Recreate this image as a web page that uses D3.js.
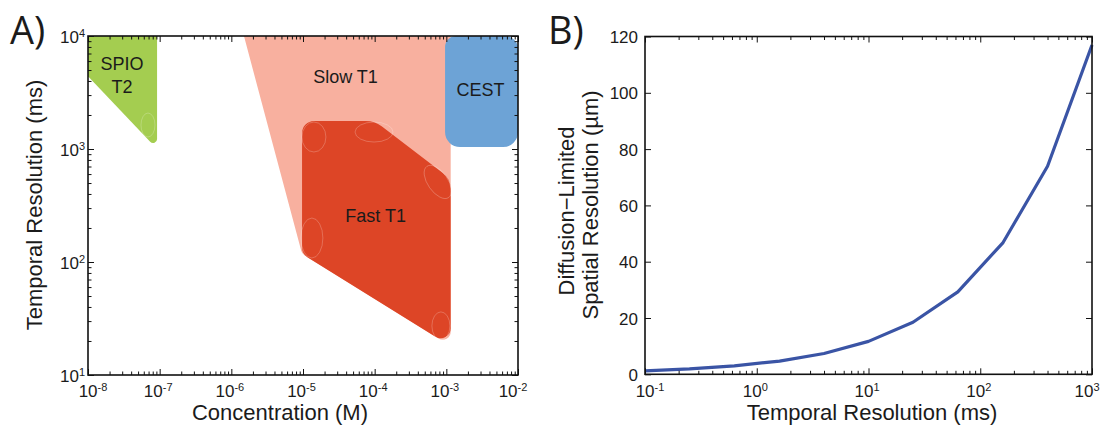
<!DOCTYPE html>
<html><head><meta charset="utf-8">
<script src="https://cdn.jsdelivr.net/npm/d3@7"></script>
<style>
body{margin:0;background:#fff}
svg{display:block}
text{font-family:"Liberation Sans",Arial,Helvetica,sans-serif;fill:#1b1b1b}
</style>
</head><body>
<svg id="chart" width="1106" height="428"></svg>
<script>
// ---------------- Panel A data ----------------
const concTicks = [1e-8, 1e-7, 1e-6, 1e-5, 1e-4, 1e-3, 1e-2];
const concTickExp = ["-8", "-7", "-6", "-5", "-4", "-3", "-2"];
const timeTicksA = [10, 100, 1000, 10000];
const timeTickExpA = ["1", "2", "3", "4"];

const slowT1Conc = [1.5e-6, 1.15e-3, 1.15e-3, 9.7e-6];
const slowT1Time = [10000, 10000, 18, 118];
const fastT1Conc = [9.7e-6, 1.0e-4, 1.15e-3, 1.15e-3, 9.7e-6];
const fastT1Time = [1770, 1770, 543, 18, 118];
const spioConc = [1e-8, 9.2e-8, 9.2e-8, 1e-8];
const spioTime = [10000, 10000, 1000, 4400];
const cestConc = [9.6e-4, 1e-2, 1e-2, 9.6e-4];
const cestTime = [10000, 10000, 1040, 1040];

const regionLabels = ["SPIO|T2", "Slow T1", "Fast T1", "CEST"];
const regionLabelConc = [2.98e-8, 3.92e-5, 1.03e-4, 3.01e-3];
const regionLabelTime = [4500, 4340, 255, 3330];

// faint corner ellipses (artefacts of the original drawing)
const ellipseConc = [6.87e-8, 1.42e-5, 9.8e-5, 7.6e-4, 1.33e-5, 8.4e-4];
const ellipseTime = [1630, 1277, 1413, 511, 163, 27.2];

// ---------------- Panel B data ----------------
const temporalRes = [0.1, 0.25, 0.63, 1.6, 4, 10, 25, 63, 160, 400, 1000];
const spatialRes = [1.2, 1.9, 3.0, 4.7, 7.4, 11.7, 18.5, 29.3, 46.8, 73.9, 117];
const tTicksB = [0.1, 1, 10, 100, 1000];
const tTickExpB = ["-1", "0", "1", "2", "3"];
const sTicksB = [0, 20, 40, 60, 80, 100, 120];

// ---------------- drawing ----------------
const svg = d3.select("#chart");
const A = {l: 88, r: 518, t: 36, b: 375};
const B = {l: 645, r: 1092, t: 36.5, b: 374.3};

const xA = d3.scaleLog().domain([1e-8, 1e-2]).range([A.l, A.r]);
const yA = d3.scaleLog().domain([10, 1e4]).range([A.b, A.t]);
const xB = d3.scaleLog().domain([0.1, 1000]).range([B.l, B.r]);
const yB = d3.scaleLinear().domain([0, 120]).range([B.b, B.t]);

function logMinors(lo, hi) {
  const out = [];
  for (let d = Math.round(Math.log10(lo)); d < Math.round(Math.log10(hi)); d++)
    for (let k = 2; k <= 9; k++) out.push(k * Math.pow(10, d));
  return out;
}

function roundedPath(pts, radii) {
  const p = d3.path();
  const n = pts.length;
  p.moveTo((pts[n - 1][0] + pts[0][0]) / 2, (pts[n - 1][1] + pts[0][1]) / 2);
  for (let i = 0; i < n; i++) {
    const c = pts[i], nx = pts[(i + 1) % n];
    if (radii[i] > 0) p.arcTo(c[0], c[1], nx[0], nx[1], radii[i]);
    else p.lineTo(c[0], c[1]);
  }
  p.closePath();
  return p.toString();
}
function pix(concs, times) { return concs.map((c, i) => [xA(c), yA(times[i])]); }

const gA = svg.append("g");
gA.append("path").attr("d", roundedPath(pix(slowT1Conc, slowT1Time), [0, 0, 8, 8])).attr("fill", "#f8b09f");
gA.append("path").attr("d", roundedPath(pix(fastT1Conc, fastT1Time), [12, 26, 20, 10, 12])).attr("fill", "#dd4526");
gA.append("path").attr("d", roundedPath(pix(spioConc, spioTime), [0, 0, 4, 0])).attr("fill", "#a4cd50");
gA.append("path").attr("d", roundedPath(pix(cestConc, cestTime), [11, 13, 15, 15])).attr("fill", "#6da3d6");

const ellR = [[7, 12, 0], [12, 15, 0], [19, 10, 0], [10, 19, -35], [11, 20, 0], [9, 14, 0]];
gA.selectAll("ellipse.art").data(ellipseConc).join("ellipse")
  .attr("transform", (d, i) => `translate(${xA(d)},${yA(ellipseTime[i])}) rotate(${ellR[i][2]})`)
  .attr("rx", (d, i) => ellR[i][0]).attr("ry", (d, i) => ellR[i][1])
  .attr("fill", "none").attr("stroke", "rgba(255,255,255,0.28)").attr("stroke-width", 0.8);

regionLabels.forEach((lab, i) => {
  const lines = lab.split("|");
  const t = gA.append("text").attr("x", xA(regionLabelConc[i])).attr("y", yA(regionLabelTime[i]))
    .attr("text-anchor", "middle").attr("font-size", 18);
  lines.forEach((ln, j) => {
    t.append("tspan").attr("x", xA(regionLabelConc[i]))
      .attr("dy", j === 0 ? (lines.length > 1 ? "-0.3em" : "0.35em") : "1.3em").text(ln);
  });
});

// axes helpers
function styleAxis(g) {
  g.select(".domain").remove();
  g.selectAll(".tick line").attr("stroke", "#111").attr("stroke-width", 1);
}
function drawAxes(xs, ys, box, xMaj, xMin, yMaj, yMin) {
  const mk = [
    [d3.axisBottom, xs, box.b, true], [d3.axisTop, xs, box.t, true],
    [d3.axisLeft, ys, box.l, false], [d3.axisRight, ys, box.r, false]
  ];
  mk.forEach(([fn, sc, pos, horiz]) => {
    const maj = horiz ? xMaj : yMaj, mnr = horiz ? xMin : yMin;
    const tr = horiz ? `translate(0,${pos})` : `translate(${pos},0)`;
    svg.append("g").attr("transform", tr)
      .call(fn(sc).tickValues(maj).tickSize(-6).tickFormat("")).call(styleAxis);
    if (mnr.length)
      svg.append("g").attr("transform", tr)
        .call(fn(sc).tickValues(mnr).tickSize(-3.5).tickFormat("")).call(styleAxis);
  });
  svg.append("rect").attr("x", box.l).attr("y", box.t).attr("width", box.r - box.l).attr("height", box.b - box.t)
    .attr("fill", "none").attr("stroke", "#111").attr("stroke-width", 1.6);
}

drawAxes(xA, yA, A, concTicks, logMinors(1e-8, 1e-2), timeTicksA, logMinors(10, 1e4));

// Panel B line
svg.append("path").datum(temporalRes)
  .attr("d", d3.line().x(d => xB(d)).y((d, i) => yB(spatialRes[i])))
  .attr("fill", "none").attr("stroke", "#3a54a5").attr("stroke-width", 3.2).attr("stroke-linejoin", "round");

drawAxes(xB, yB, B, tTicksB, logMinors(0.1, 1000), sTicksB, []);

// tick labels
function xPowLabels(sc, vals, exps, y) {
  vals.forEach((v, i) => {
    const shift = i === 0 ? 5 : (i === vals.length - 1 ? -5 : -1.5);
    const t = svg.append("text").attr("x", sc(v) + shift).attr("y", y)
      .attr("text-anchor", "middle").attr("font-size", 17);
    t.append("tspan").text("10");
    t.append("tspan").attr("font-size", 11).attr("dy", -6).text(exps[i]);
  });
}
xPowLabels(xA, concTicks, concTickExp, 397);
xPowLabels(xB, tTicksB, tTickExpB, 397);

timeTicksA.forEach((v, i) => {
  const t = svg.append("text").attr("x", A.l - 3).attr("y", yA(v) + 7)
    .attr("text-anchor", "end").attr("font-size", 17);
  t.append("tspan").text("10");
  t.append("tspan").attr("font-size", 11).attr("dy", -6).text(timeTickExpA[i]);
});
sTicksB.forEach(v => {
  svg.append("text").attr("x", B.l - 7).attr("y", yB(v) + 6.5)
    .attr("text-anchor", "end").attr("font-size", 17).text(v);
});

// axis titles
svg.append("text").attr("x", 280).attr("y", 420).attr("text-anchor", "middle").attr("font-size", 22).text("Concentration (M)");
svg.append("text").attr("x", 872).attr("y", 420).attr("text-anchor", "middle").attr("font-size", 22).text("Temporal Resolution (ms)");
svg.append("text").attr("transform", "translate(41.5,205) rotate(-90)").attr("text-anchor", "middle").attr("font-size", 22).text("Temporal Resolution (ms)");
svg.append("text").attr("transform", "translate(574,211) rotate(-90)").attr("text-anchor", "middle").attr("font-size", 22).text("Diffusion\u2212Limited");
svg.append("text").attr("transform", "translate(598,205) rotate(-90)").attr("text-anchor", "middle").attr("font-size", 22).text("Spatial Resolution (\u00b5m)");

// panel letters
svg.append("text").attr("x", 10).attr("y", 44).attr("font-size", 38).style("font-family", "'Open Sans',sans-serif").text("A)");
svg.append("text").attr("x", 548).attr("y", 44).attr("font-size", 38).style("font-family", "'Open Sans',sans-serif").text("B)");
</script>
</body></html>
